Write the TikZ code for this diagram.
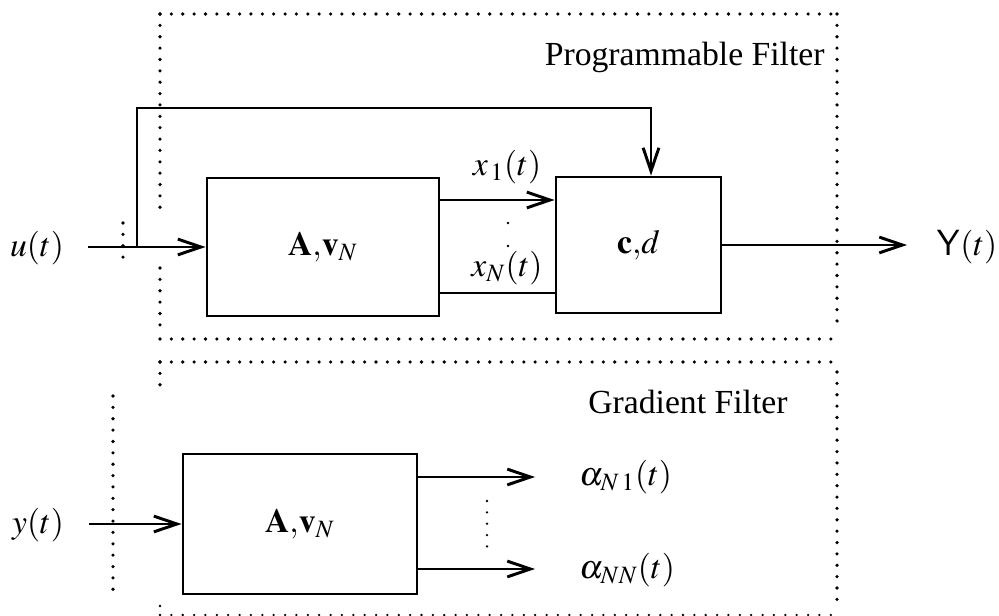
\documentclass[tikz,border=0pt]{standalone}
\usepackage{amsmath}
\usepackage{mathptmx}
\usepackage{fontspec}
\setmainfont{Liberation Serif}
\usepackage{tikz}
\usetikzlibrary{arrows.meta}
\tikzstyle{pixelGrid} = [x = .0167cm, y = -.0167cm]
\tikzstyle{blockStyle} = [draw, line width = 1.4pt, inner sep = 0pt, font = \fontsize{16}{19}\selectfont]
\tikzstyle{signalLine} = [line width = 1.4pt, -{Straight Barb[length = 11pt, width = 7.5pt]}]
\tikzstyle{plainLine} = [line width = 1.4pt]
\tikzstyle{signalText} = [font = \fontsize{16}{19}\selectfont, inner sep = 0pt]
\tikzstyle{borderDots} = [line width = 1.7pt, line cap = round, dash pattern = on 0pt off 5.4pt]
\tikzstyle{lightDots} = [line width = 1.2pt, line cap = round, dash pattern = on 0pt off 5.4pt]
\newcommand{\px}{.0167cm}
\newcommand{\filterBlock}[6]{\node [blockStyle, minimum width = #4*\px, minimum height = #5*\px] (#1) at (#2,#3) {#6};}
\newcommand{\dotLine}[4]{\draw [borderDots] (#1,#2) -- (#3,#4);}

\begin{document}
\begin{tikzpicture}[pixelGrid]
      \useasboundingbox (0,0) rectangle (999,616);

      % programmable filter
      \filterBlock{boxA}{323}{247}{232}{138}{$\mathbf{A}{,}\mathbf{v}_N$}
      \filterBlock{boxC}{638.5}{245}{165}{136}{$\mathbf{c}{,}d$}
      \node [signalText] (uLabel) at (37,248) {$u(t)$};
      \node [signalText] (xOneLabel) at (507,167) {$x_{\,1}(t)$};
      \node [signalText] (xNLabel) at (507,268) {$x_N(t)$};
      \node [signalText] (yOutLabel) at (967,247) {$\mathsf{Y}(t)$};
      \node [signalText, anchor = east] (progTitle) at (825,57) {Programmable Filter};

      \coordinate (uIn) at (88,247);
      \coordinate (branch) at (137,247);
      \coordinate (fbTop) at (651,108);
      \coordinate (xOneOut) at (439,200);
      \coordinate (xNOut) at (439,293);
      \coordinate (yOut) at (907,245);

      \draw [signalLine] (uIn) -- (boxA.west);
      \draw [signalLine] (branch) |- (fbTop) -- (fbTop |- boxC.north);
      \draw [signalLine] (xOneOut) -- (xOneOut -| boxC.west);
      \draw [plainLine] (xNOut) -- (xNOut -| boxC.west);
      \draw [signalLine] (boxC) -- (yOut);
      \fill (508,223) circle (.7pt);
      \fill (508,246) circle (.7pt);

      \dotLine{160}{14}{837}{14}
      \dotLine{837}{14}{837}{330}
      \dotLine{160}{339}{837}{339}
      \dotLine{160}{14}{160}{213}
      \dotLine{160}{268}{160}{330}
      \dotLine{123}{223}{123}{259}

      % gradient filter
      \filterBlock{boxG}{300}{524}{234}{140}{$\mathbf{A}{,}\mathbf{v}_N$}
      \node [signalText] (yInLabel) at (38,525) {$y(t)$};
      \node [signalText, anchor = west] (alphaOneLabel) at (579,477) {$\alpha_{N\,1}(t)$};
      \node [signalText, anchor = west] (alphaNLabel) at (579,570) {$\alpha_{NN}(t)$};
      \node [signalText, anchor = east] (gradTitle) at (788,402) {Gradient Filter};

      \coordinate (yIn) at (89,524);
      \coordinate (alphaOneEnd) at (535,477);
      \coordinate (alphaNEnd) at (535,569);

      \draw [signalLine] (yIn) -- (boxG.west);
      \draw [signalLine] (boxG.east |- alphaOneEnd) -- (alphaOneEnd);
      \draw [signalLine] (boxG.east |- alphaNEnd) -- (alphaNEnd);
      \draw [lightDots] (487,501) -- (487,548);

      \dotLine{160}{362}{837}{362}
      \dotLine{837}{372}{837}{603}
      \dotLine{160}{362}{160}{386}
      \dotLine{113}{396}{113}{595}
      \fill (160,606) circle (.6pt);
      \draw [lightDots] (160,615) -- (837,615);
\end{tikzpicture}
\end{document}
